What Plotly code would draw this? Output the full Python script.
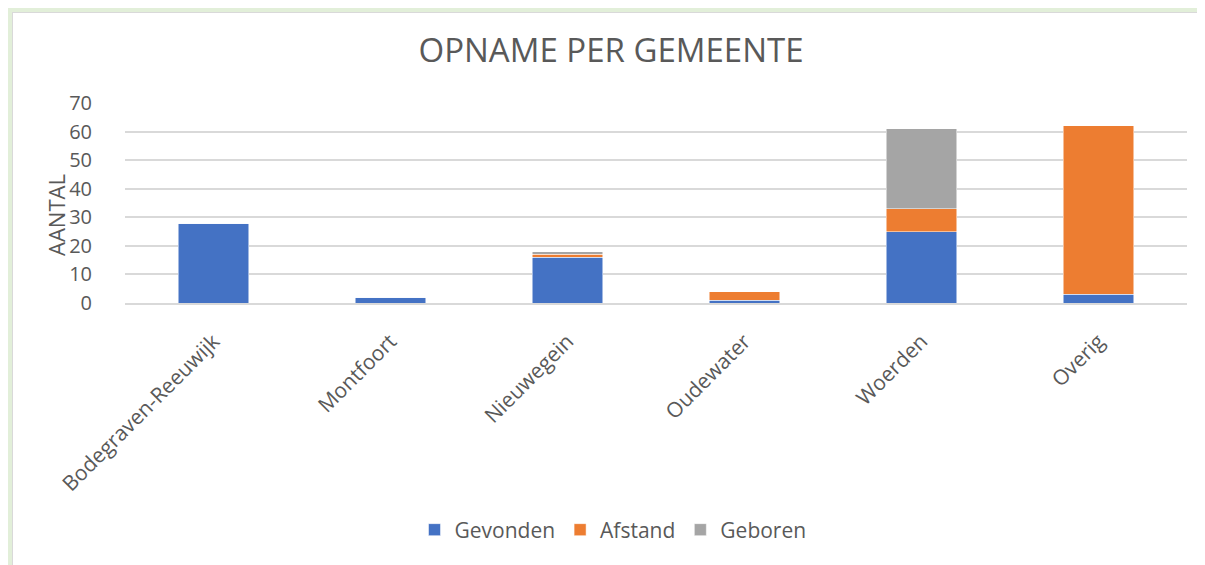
import plotly.graph_objects as go

categories = ["Bodegraven-Reeuwijk", "Montfoort", "Nieuwegein", "Oudewater", "Woerden", "Overig"]
gevonden = [28, 2, 16, 1, 25, 3]
afstand = [0, 0, 1, 3, 8, 59]
geboren = [0, 0, 1, 0, 28, 0]
y_ticks = [0, 10, 20, 30, 40, 50, 60, 70]

FONT = "Open Sans"
TXT = "#595959"

# page offset of the figure div (body margin)
OFF = 8
W, H = 1205 - OFF, 565 - OFF

fig = go.Figure()
for name, vals, col in [("Gevonden", gevonden, "#4472c4"),
                        ("Afstand", afstand, "#ed7d31"),
                        ("Geboren", geboren, "#a5a5a5")]:
    fig.add_trace(go.Bar(x=categories, y=vals, name=name,
                         marker=dict(color=col, line=dict(color="white", width=0.5))))

# plot area in screen pixels: x 125..1187, y 103..303
L = 125 - OFF
T = 103 - OFF
R = W - (1187 - OFF)
B = H - (303 - OFF)
PW, PH = W - L - R, H - T - B

def px_x(p):
    return (p - OFF - L) / PW

def px_y(p):
    return (303 - p) / PH

fig.update_layout(
    width=W, height=H,
    barmode="stack", bargap=0.6,
    paper_bgcolor="white", plot_bgcolor="white",
    margin=dict(l=L, r=R, t=T, b=B, autoexpand=False),
    font=dict(family=FONT, color=TXT, size=19),
    title=dict(text="OPNAME PER GEMEENTE", x=(611 - OFF) / W, xanchor="center",
               y=1 - (50 - OFF) / H, yanchor="middle", yref="container",
               font=dict(family=FONT, size=33, color=TXT)),
    xaxis=dict(tickangle=-45, showgrid=False, showline=True, linecolor="#d9d9d9",
               linewidth=1.5, ticks="", ticklabelstandoff=16,
               tickfont=dict(size=21, color=TXT)),
    yaxis=dict(range=[0, 70], tickvals=y_ticks, showgrid=True, gridcolor="#d9d9d9",
               gridwidth=1.5, zeroline=False, ticks="", ticklabelstandoff=32,
               tickfont=dict(size=20, color=TXT)),
    legend=dict(orientation="h", x=px_x(613), xanchor="center", y=px_y(530),
                yanchor="middle", font=dict(size=21, color=TXT),
                itemwidth=30, traceorder="normal"),
    showlegend=True,
)

fig.add_annotation(text="AANTAL", xref="paper", yref="paper", x=px_x(56), y=px_y(215),
                   textangle=-90, showarrow=False, xanchor="center", yanchor="middle",
                   font=dict(family=FONT, size=22, color=TXT))

# Green outer frame (top and left strips) with thin grey inner edge
fig.add_shape(type="rect", xref="paper", yref="paper", x0=px_x(OFF), x1=px_x(1205),
              y0=px_y(OFF), y1=px_y(OFF + 4), fillcolor="#e2efd9", line=dict(width=0), layer="below")
fig.add_shape(type="rect", xref="paper", yref="paper", x0=px_x(OFF), x1=px_x(OFF + 4),
              y0=px_y(OFF), y1=px_y(565), fillcolor="#e2efd9", line=dict(width=0), layer="below")
fig.add_shape(type="line", xref="paper", yref="paper", x0=px_x(OFF + 4), x1=px_x(1205),
              y0=px_y(OFF + 4.5), y1=px_y(OFF + 4.5), line=dict(color="#d9d9d9", width=1), layer="below")
fig.add_shape(type="line", xref="paper", yref="paper", x0=px_x(OFF + 4.5), x1=px_x(OFF + 4.5),
              y0=px_y(OFF + 4), y1=px_y(565), line=dict(color="#d9d9d9", width=1), layer="below")

fig.write_html("out.html")
